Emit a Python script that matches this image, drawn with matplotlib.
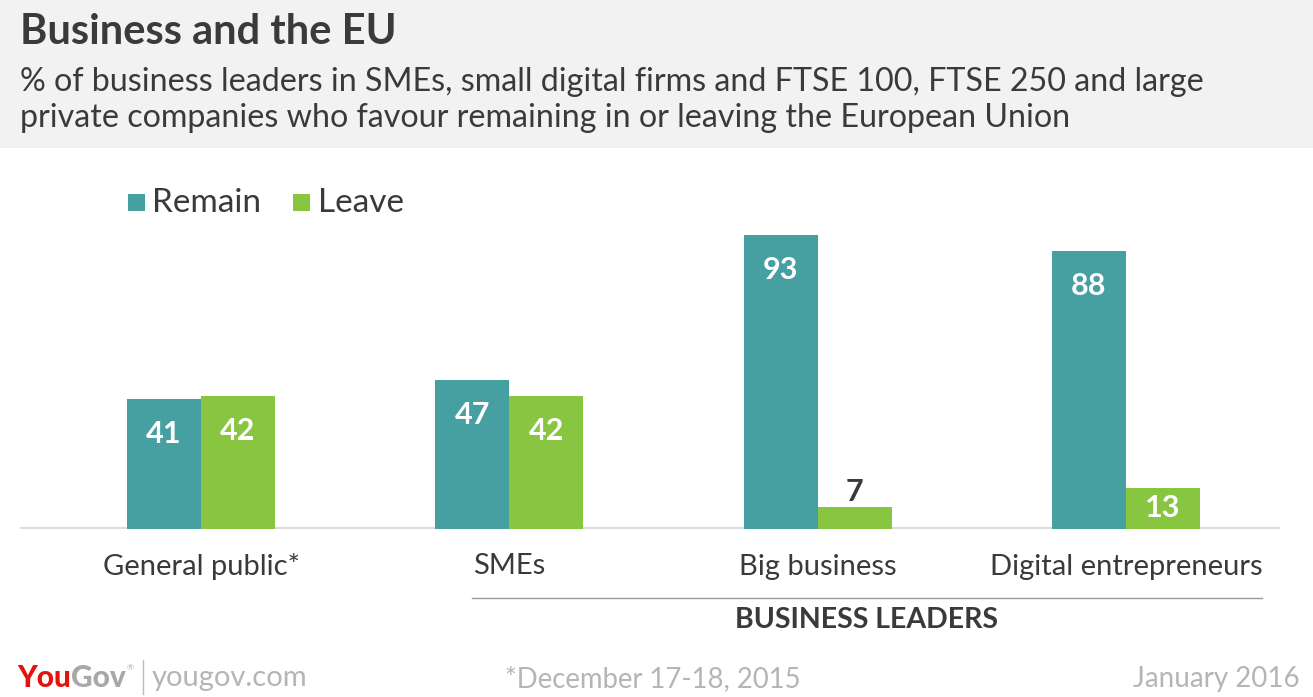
import matplotlib
matplotlib.use("Agg")
import matplotlib.pyplot as plt
from matplotlib.patches import Rectangle
from matplotlib.lines import Line2D

categories = ["General public*", "SMEs", "Big business", "Digital entrepreneurs"]
remain = [41, 47, 93, 88]
leave = [42, 42, 7, 13]
series_names = ["Remain", "Leave"]

C_REMAIN = "#469fa0"
C_LEAVE = "#88c540"
DARK = "#3a3a3a"
LIGHT = "#b5b5b5"
FONT = "Lato"

W, H = 1313, 697
fig = plt.figure(figsize=(W / 100, H / 100), dpi=100)
fig.patch.set_facecolor("white")

def fx(px):
    return px / W

def fy(py):
    return 1 - py / H

# header band
fig.patches.append(Rectangle((0, fy(148)), 1, 148 / H, transform=fig.transFigure,
                             facecolor="#f2f2f2", edgecolor="none", zorder=0))
fig.text(fx(20), fy(32), "Business and the EU", fontsize=30, fontweight="bold",
         color=DARK, family=FONT, va="center", ha="left")
fig.text(fx(20), fy(82), "% of business leaders in SMEs, small digital firms and FTSE 100, FTSE 250 and large",
         fontsize=23.2, color=DARK, family=FONT, va="center", ha="left")
fig.text(fx(20), fy(118), "private companies who favour remaining in or leaving the European Union",
         fontsize=23.2, color=DARK, family=FONT, va="center", ha="left")

# axes
ax_left, ax_right = 20, 1280
ax_bottom, ax_top = 529, 213
ax = fig.add_axes([fx(ax_left), fy(ax_bottom), (ax_right - ax_left) / W, (ax_bottom - ax_top) / H])
ax.set_facecolor("none")
ax.set_xlim(-0.587, 3.5)
ax.set_ylim(0, 100)
for s in ax.spines.values():
    s.set_visible(False)
ax.set_xticks([])
ax.set_yticks([])
ax.axhline(0, color="#dddddd", lw=3, zorder=1)

bw = 0.24
xs = list(range(len(categories)))
ax.bar([x - bw / 2 for x in xs], remain, width=bw, color=C_REMAIN, zorder=2)
ax.bar([x + bw / 2 for x in xs], leave, width=bw, color=C_LEAVE, zorder=2)

def label(x, v):
    if v >= 20:
        ax.annotate(str(v), (x, v), xytext=(0, -25), textcoords="offset points",
                    ha="center", va="center", color="white", fontsize=22,
                    fontweight="bold", family=FONT)
    elif v >= 10:
        ax.annotate(str(v), (x, v / 2), xytext=(0, 0), textcoords="offset points",
                    ha="center", va="center", color="white", fontsize=22,
                    fontweight="bold", family=FONT)
    else:
        ax.annotate(str(v), (x, v), xytext=(0, 11), textcoords="offset points",
                    ha="center", va="center", color=DARK, fontsize=22,
                    fontweight="bold", family=FONT)

for x, v in zip(xs, remain):
    label(x - bw / 2, v)
for x, v in zip(xs, leave):
    label(x + bw / 2, v)

# category labels
for x, c in zip(xs, categories):
    ax.annotate(c, (x, 0), xytext=(0, -27), textcoords="offset points",
                ha="center", va="center", color=DARK, fontsize=21, family=FONT)

# business leaders bracket
fig.lines.append(Line2D([fx(472), fx(1262)], [fy(598), fy(598)], transform=fig.transFigure,
                        color="#999999", lw=1))
fig.text(fx(867), fy(620), "BUSINESS LEADERS", fontsize=20.5, fontweight="bold",
         color=DARK, family=FONT, ha="center", va="center")

# legend
fig.patches.append(Rectangle((fx(128), fy(211)), 17 / W, 17 / H, transform=fig.transFigure,
                             facecolor=C_REMAIN, edgecolor="none"))
fig.text(fx(152), fy(203), series_names[0], fontsize=24, color=DARK, family=FONT,
         va="center", ha="left")
fig.patches.append(Rectangle((fx(293), fy(211)), 17 / W, 17 / H, transform=fig.transFigure,
                             facecolor=C_LEAVE, edgecolor="none"))
fig.text(fx(318), fy(203), series_names[1], fontsize=24, color=DARK, family=FONT,
         va="center", ha="left")

# footer
fig.canvas.draw()
renderer = fig.canvas.get_renderer()
t1 = fig.text(fx(17), fy(678), "You", fontsize=21.5, fontweight="black", color="#e3120b",
              family=FONT, va="center", ha="left")
bb = t1.get_window_extent(renderer=renderer)
t2 = fig.text(bb.x1 / W, fy(678), "Gov", fontsize=21.5, fontweight="black", color="#a8a8a8",
              family=FONT, va="center", ha="left")
bb2 = t2.get_window_extent(renderer=renderer)
fig.text(bb2.x1 / W + 0.001, fy(668), "®", fontsize=6, color="#a8a8a8",
         family=FONT, va="center", ha="left")
fig.lines.append(Line2D([fx(143), fx(143)], [fy(660), fy(694)], transform=fig.transFigure,
                        color="#bbbbbb", lw=1))
fig.text(fx(152), fy(678), "yougov.com", fontsize=21, color=LIGHT, family=FONT,
         va="center", ha="left")
fig.text(fx(505), fy(679), "*December 17-18, 2015", fontsize=19.8, color=LIGHT,
         family=FONT, va="center", ha="left")
fig.text(fx(1300), fy(679), "January 2016", fontsize=20, color=LIGHT,
         family=FONT, va="center", ha="right")

fig.savefig("out.png", dpi=100)
